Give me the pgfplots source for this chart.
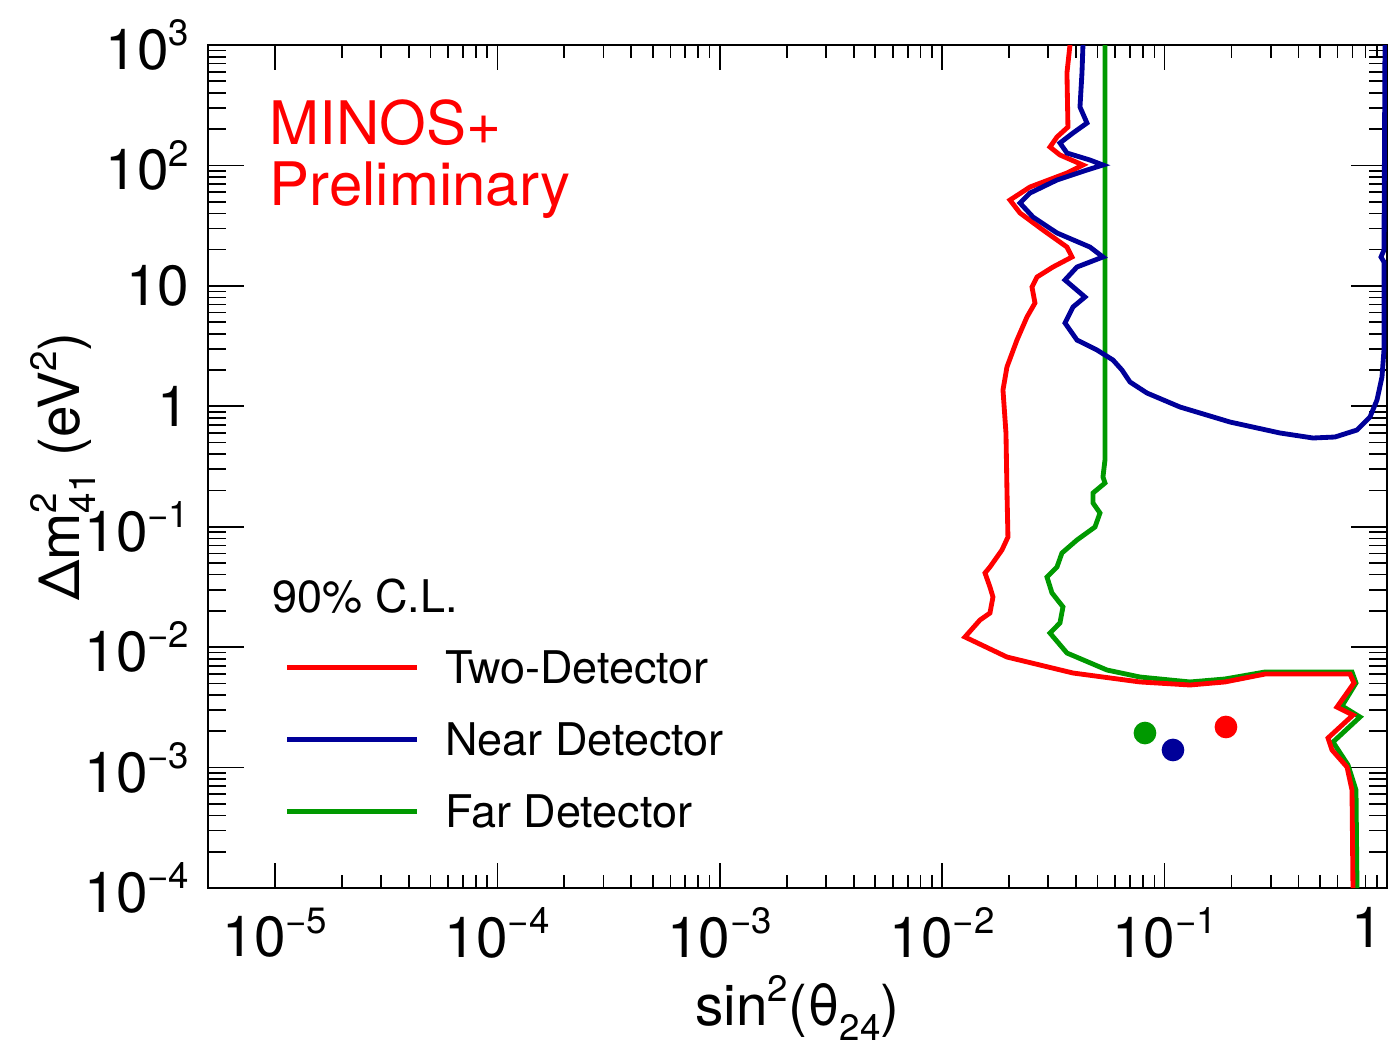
\documentclass[border=0pt]{standalone}
\usepackage{fontspec}
\setmainfont{TeX Gyre Heros}
\usepackage{pgfplots}
\pgfplotsset{compat=1.18}

\definecolor{rootred}{RGB}{255,0,0}
\definecolor{rootblue}{RGB}{0,0,153}
\definecolor{rootgreen}{RGB}{0,153,0}

% ROOT-like raised and lowered indices for 17pt labels
\newcommand\expo[1]{\raisebox{0.42em}{\fontsize{11}{11}\selectfont #1}}
\newcommand\subs[1]{\raisebox{-0.28em}{\fontsize{11}{11}\selectfont #1}}

\begin{document}
\begin{tikzpicture}
\begin{axis}[
  name=ax,
  scale only axis,
  width=353.7pt, height=252.9pt,
  xmode=log, ymode=log,
  xmin=5e-6, xmax=1, ymin=1e-4, ymax=1e3,
  axis line style={line width=0.6pt},
  tick align=inside,
  tick style={line width=0.5pt, black},
  xtick style={/pgfplots/major tick length=7.5pt, /pgfplots/minor tick length=3.9pt},
  ytick style={/pgfplots/major tick length=10.8pt, /pgfplots/minor tick length=5.4pt},
  xtick={1e-5,1e-4,1e-3,1e-2,1e-1,1},
  xticklabels={10\expo{−5},10\expo{−4},10\expo{−3},10\expo{−2},10\expo{−1},\hbox to 0pt{\hss 1\kern1.2pt}},
  ytick={1e-4,1e-3,1e-2,1e-1,1,10,100,1000},
  yticklabels={10\expo{−4},10\expo{−3},10\expo{−2},10\expo{−1},1,10,10\expo{2},10\expo{3}},
  ticklabel style={font=\fontsize{17}{20}\selectfont},
  xticklabel style={anchor=north, inner sep=0pt, yshift=-5.7pt},
  yticklabel style={anchor=east, inner sep=0pt, xshift=-5.4pt},
  xlabel={sin\expo{2}(θ\subs{24})},
  ylabel={Δm\rlap{\expo{2}}\subs{41} (eV\expo{2})},
  label style={font=\fontsize{17}{20}\selectfont, inner sep=0pt},
  xlabel style={at={(axis description cs:0.5,-0.1625)}, anchor=base},
  ylabel style={at={(axis description cs:-0.1086,0.5)}, anchor=base},
  legend style={
    at={(axis description cs:0.0653,0.2806)}, anchor=north west,
    draw=none, fill=none, inner sep=0pt, outer sep=0pt,
    font=\fontsize{13.5}{16}\selectfont,
    row sep=11.9pt, column sep=7.6pt,
    nodes={inner sep=0pt, text height=9.7pt, text depth=0pt},
  },
  legend cell align=left,
  legend image code/.code={\draw[#1] (0pt,0pt) -- (39pt,0pt);},
]

% Far Detector contour
\addplot[rootgreen, line width=1.45pt, forget plot] coordinates {
(0.05395,1000) (0.05395,0.3581) (0.05284,0.2587) (0.05395,0.2307)
(0.04766,0.1905) (0.04766,0.1574) (0.05123,0.1300) (0.04865,0.0995)
(0.04037,0.0776) (0.03456,0.0605) (0.03282,0.0463) (0.02960,0.0382)
(0.03117,0.0282) (0.03493,0.0216) (0.03386,0.0159) (0.03053,0.0131)
(0.03640,0.00894) (0.05508,0.00646) (0.07752,0.00565) (0.1301,0.00514)
(0.1869,0.00544) (0.2828,0.00622) (0.6961,0.00622) (0.7256,0.00504)
(0.6276,0.00325) (0.7562,0.00263) (0.5718,0.00163) (0.6681,0.00105)
(0.7256,0.000651) (0.7332,0.0001)
};

% Two-Detector contour
\addplot[rootred, line width=1.45pt, forget plot] coordinates {
(0.03755,1000) (0.03640,585.7) (0.03678,208.5) (0.03282,172.2)
(0.03053,142.2) (0.03386,122.1) (0.04296,100.8) (0.03640,86.5)
(0.02482,66.2) (0.02018,51.6) (0.02238,40.3) (0.02839,29.1)
(0.03640,21.0) (0.03834,17.37) (0.03149,14.34) (0.02669,11.84)
(0.02534,9.78) (0.02614,7.21) (0.02405,5.51) (0.02169,3.55)
(0.01956,2.12) (0.01877,1.366) (0.01936,0.6002) (0.01956,0.2018)
(0.01976,0.0821) (0.01857,0.0641) (0.01640,0.0463) (0.01558,0.0413)
(0.01640,0.0316) (0.01692,0.0261) (0.01640,0.0192) (0.01479,0.0168)
(0.01266,0.01214) (0.01956,0.00828) (0.03873,0.00610) (0.07752,0.00514)
(0.1301,0.00485) (0.1869,0.00514) (0.2828,0.00598) (0.6820,0.00598)
(0.7106,0.00504) (0.5957,0.00318) (0.7033,0.00273) (0.5429,0.00176)
(0.5659,0.00140) (0.6612,0.00101) (0.6961,0.000651) (0.7033,0.0001)
};

% Near Detector contour
\addplot[rootblue, line width=1.45pt, forget plot] coordinates {
(0.04296,1000) (0.04252,585.7) (0.04165,305.7) (0.04478,225.0)
(0.03873,185.9) (0.03386,153.6) (0.03640,126.8) (0.04619,110.9)
(0.05284,100.8) (0.04478,91.6) (0.03282,75.7) (0.02482,59.0)
(0.02238,48.8) (0.02561,37.3) (0.03282,27.5) (0.04619,21.0)
(0.05284,17.37) (0.04037,14.34) (0.03566,11.19) (0.04386,8.08)
(0.03873,6.67) (0.03566,4.92) (0.04037,3.55) (0.04966,2.934)
(0.05861,2.423) (0.06433,2.001) (0.06991,1.591) (0.08331,1.289)
(0.1173,0.9865) (0.1968,0.7405) (0.3303,0.6002) (0.4649,0.5454)
(0.5837,0.5559) (0.7332,0.6355) (0.8385,0.8149) (0.9017,1.128)
(0.9495,1.751) (0.9694,2.934) (0.9694,15.78) (0.9397,17.37)
(0.9694,19.86) (0.9795,1000)
};

% Best-fit points
\addplot[only marks, mark=*, mark size=3.2pt, rootgreen, forget plot] coordinates {(0.08163,0.001937)};
\addplot[only marks, mark=*, mark size=3.2pt, rootblue, forget plot] coordinates {(0.1091,0.00140)};
\addplot[only marks, mark=*, mark size=3.2pt, rootred, forget plot] coordinates {(0.1888,0.002173)};

\addlegendimage{rootred, line width=1.45pt}
\addlegendentry{Two-Detector}
\addlegendimage{rootblue, line width=1.45pt}
\addlegendentry{Near Detector}
\addlegendimage{rootgreen, line width=1.45pt}
\addlegendentry{Far Detector}

\node[anchor=base west, inner sep=0pt, text=rootred, font=\fontsize{18}{20}\selectfont]
  at (axis description cs:0.0518,0.8814) {MINOS+};
\node[anchor=base west, inner sep=0pt, text=rootred, font=\fontsize{18}{20}\selectfont]
  at (axis description cs:0.0518,0.8102) {Preliminary};
\node[anchor=base west, inner sep=0pt, font=\fontsize{13.5}{16}\selectfont]
  at (axis description cs:0.0543,0.3274) {90\% C.L.};
\end{axis}
\pgfresetboundingbox
\useasboundingbox ([shift={(-62.4pt,-50.1pt)}]ax.south west) rectangle ([shift={(1.5pt,13.5pt)}]ax.north east);
\end{tikzpicture}
\end{document}
